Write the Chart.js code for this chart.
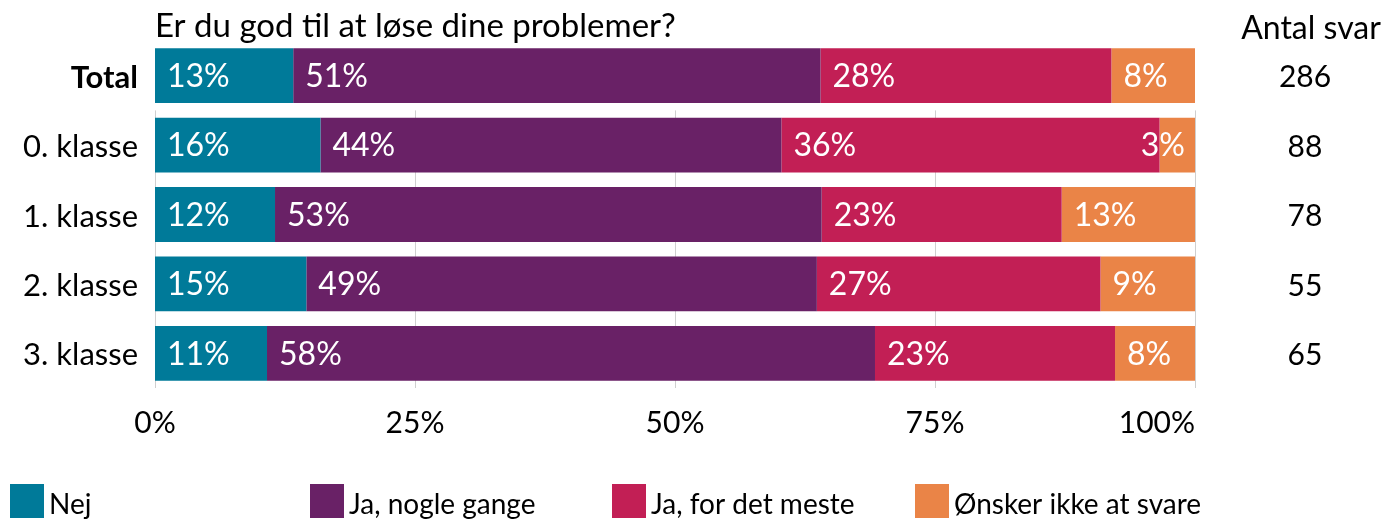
<!DOCTYPE html>
<html lang="da">

<head>
    <meta charset="UTF-8">
    <title>Er du god til at løse dine problemer?</title>
    <script src="https://cdn.jsdelivr.net/npm/chart.js"></script>
    <style>
        html, body {
            margin: 0;
            padding: 0;
            background: #fff;
        }

        #wrap {
            position: relative;
            width: 1394px;
            height: 520px;
        }
    </style>
</head>

<body>
    <div id="wrap"><canvas id="chart"></canvas></div>
    <script>
        // data
        const title = 'Er du god til at løse dine problemer?';
        const countTitle = 'Antal svar';
        const categories = ['Total', '0. klasse', '1. klasse', '2. klasse', '3. klasse'];
        const counts = [286, 88, 78, 55, 65];
        const seriesNames = ['Nej', 'Ja, nogle gange', 'Ja, for det meste', 'Ønsker ikke at svare'];
        const nej = [13.29, 15.91, 11.54, 14.55, 10.77];
        const nogleGange = [50.70, 44.32, 52.56, 49.09, 58.46];
        const detMeste = [27.97, 36.36, 23.08, 27.27, 23.08];
        const onskerIkke = [8.04, 3.41, 12.82, 9.09, 7.69];
        const xTicks = [0, 25, 50, 75, 100];

        const colors = ['#007a99', '#692166', '#c21f55', '#ea8447'];
        const FONT = 'Lato, "Open Sans", sans-serif';

        // vertical grid lines, starting below the Total bar
        const gridPlugin = {
            id: 'grid',
            beforeDatasetsDraw(chart) {
                const { ctx, chartArea, scales } = chart;
                const yTop = (scales.y.getPixelForValue(0) + scales.y.getPixelForValue(1)) / 2;
                ctx.save();
                ctx.strokeStyle = '#cfcfcf';
                ctx.lineWidth = 1;
                xTicks.forEach(v => {
                    const x = Math.round(scales.x.getPixelForValue(v)) + 0.5;
                    ctx.beginPath();
                    ctx.moveTo(x, yTop);
                    ctx.lineTo(x, chartArea.bottom);
                    ctx.stroke();
                });
                ctx.restore();
            }
        };

        // percent labels in the bars
        const barLabels = {
            id: 'barLabels',
            afterDatasetsDraw(chart) {
                const { ctx } = chart;
                ctx.save();
                ctx.font = '32px ' + FONT;
                ctx.fillStyle = '#fff';
                ctx.textBaseline = 'middle';
                ctx.textAlign = 'left';
                chart.data.datasets.forEach((ds, i) => {
                    chart.getDatasetMeta(i).data.forEach((bar, j) => {
                        const txt = Math.round(ds.data[j]) + '%';
                        const w = ctx.measureText(txt).width;
                        const x = Math.min(bar.base + 12, bar.x - w - 10);
                        ctx.fillText(txt, x, bar.y + 1);
                    });
                });
                ctx.restore();
            }
        };

        // title, count column, x tick labels and legend
        const extras = {
            id: 'extras',
            afterDraw(chart) {
                const { ctx, chartArea, scales } = chart;
                ctx.save();
                ctx.fillStyle = '#000';
                ctx.textBaseline = 'alphabetic';
                ctx.font = '33px ' + FONT;
                ctx.textAlign = 'left';
                ctx.fillText(title, chartArea.left, 37);

                ctx.font = '32px ' + FONT;
                ctx.textAlign = 'center';
                ctx.fillText(countTitle, 1311, 39);
                ctx.font = '30px ' + FONT;
                ctx.textBaseline = 'middle';
                counts.forEach((c, i) => {
                    ctx.fillText(String(c), 1305, scales.y.getPixelForValue(i) + 2);
                });

                // x tick labels; the last one is kept inside the plot
                ctx.textBaseline = 'alphabetic';
                xTicks.forEach((v, i) => {
                    const x = scales.x.getPixelForValue(v);
                    ctx.textAlign = i === xTicks.length - 1 ? 'right' : 'center';
                    ctx.fillText(v + '%', x, 433);
                });

                // legend
                const legendX = [10, 310, 612, 915];
                ctx.textAlign = 'left';
                ctx.font = '28px ' + FONT;
                seriesNames.forEach((name, i) => {
                    ctx.fillStyle = colors[i];
                    ctx.fillRect(legendX[i], 484, 34, 34);
                    ctx.fillStyle = '#000';
                    ctx.fillText(name, legendX[i] + 39, 514);
                });
                ctx.restore();
            }
        };

        const datasets = [nej, nogleGange, detMeste, onskerIkke].map((d, i) => ({
            label: seriesNames[i],
            data: d,
            backgroundColor: colors[i],
            borderWidth: 0,
            barPercentage: 0.79,
            categoryPercentage: 1
        }));

        new Chart(document.getElementById('chart'), {
            type: 'bar',
            data: { labels: categories, datasets: datasets },
            options: {
                indexAxis: 'y',
                responsive: true,
                maintainAspectRatio: false,
                animation: false,
                layout: { padding: { top: 41, right: 199, left: 0, bottom: 0 } },
                plugins: {
                    legend: { display: false },
                    tooltip: { enabled: false }
                },
                scales: {
                    x: {
                        stacked: true,
                        min: 0,
                        max: 100,
                        afterBuildTicks: s => { s.ticks = xTicks.map(v => ({ value: v })); },
                        afterFit: s => { s.height = 132; },
                        grid: { display: false, drawTicks: false },
                        border: { display: false },
                        ticks: { display: false }
                    },
                    y: {
                        stacked: true,
                        afterFit: s => { s.width = 155; },
                        grid: { display: false, drawTicks: false },
                        border: { display: false },
                        ticks: {
                            padding: 17,
                            labelOffset: 2,
                            color: '#000',
                            font: ctx => ({ family: FONT, size: 31, weight: ctx.index === 0 ? 'bold' : 'normal' })
                        }
                    }
                }
            },
            plugins: [gridPlugin, barLabels, extras]
        });
    </script>
</body>

</html>
